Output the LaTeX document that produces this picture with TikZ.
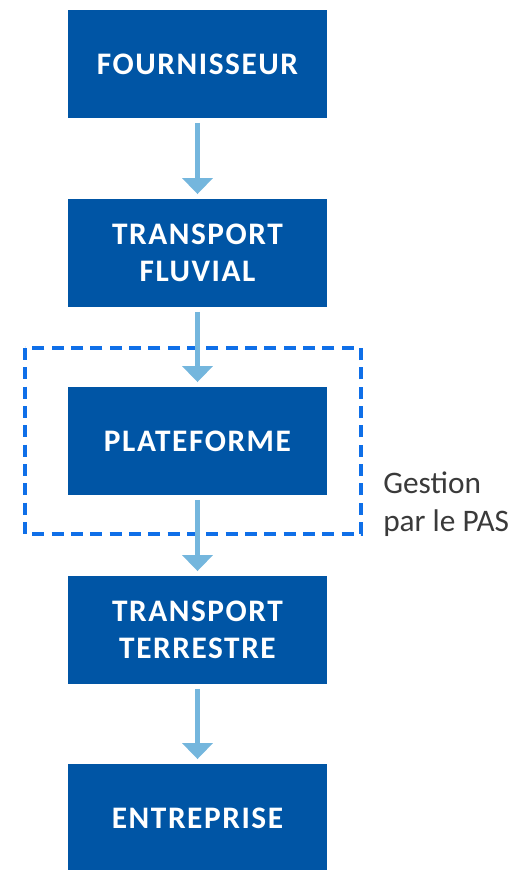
\documentclass[tikz,border=0pt]{standalone}
\usepackage{fontspec}
\setmainfont{Carlito}
\usetikzlibrary{arrows.meta}

\definecolor{pasblue}{HTML}{0055A5}
\definecolor{flowblue}{HTML}{74B6DD}
\definecolor{dashblue}{HTML}{0F6FE8}
\definecolor{notegray}{HTML}{3A3A3A}

\tikzset{
  stepbox/.style={fill=pasblue, text=white, minimum width=194pt, minimum height=81pt,
    inner sep=0pt, align=center,
    font=\fontsize{23.5}{28.2}\selectfont\bfseries\addfontfeature{LetterSpace=5}},
  flow/.style={draw=flowblue, line width=3.4pt, shorten <=3.5pt, shorten >=3.5pt,
    -{Triangle[length=12pt,width=22.5pt]}},
  pasframe/.style={draw=dashblue, line width=2.7pt, dash pattern=on 9pt off 5.5pt}
}

\begin{document}
\begin{tikzpicture}[x=0.75pt, y=-0.75pt, line join=miter]
  \useasboundingbox (0,0) rectangle (510,870);
  % The chain, top to bottom.
  \node[stepbox] (fourn) at (197.5,64) {FOURNISSEUR};
  \node[stepbox] (fluvial) at (197.5,253) {TRANSPORT\\FLUVIAL};
  \node[stepbox] (platef) at (197.5,441) {PLATEFORME};
  \node[stepbox] (terre) at (197.5,630) {TRANSPORT\\TERRESTRE};
  \node[stepbox] (entrep) at (197.5,818) {ENTREPRISE};
  % Managed part.
  \draw[pasframe] (25,348) rectangle (361,534);
  \node[anchor=north west, inner sep=0pt, align=left, text=notegray,
    font=\fontsize{23.5}{28.2}\selectfont] (gestion) at (383,472) {Gestion\\par le PAS};
  % Arrows.
  \draw[flow] (fourn) -- (fluvial);
  \draw[flow] (fluvial) -- (platef);
  \draw[flow] (platef) -- (terre);
  \draw[flow] (terre) -- (entrep);
\end{tikzpicture}
\end{document}
